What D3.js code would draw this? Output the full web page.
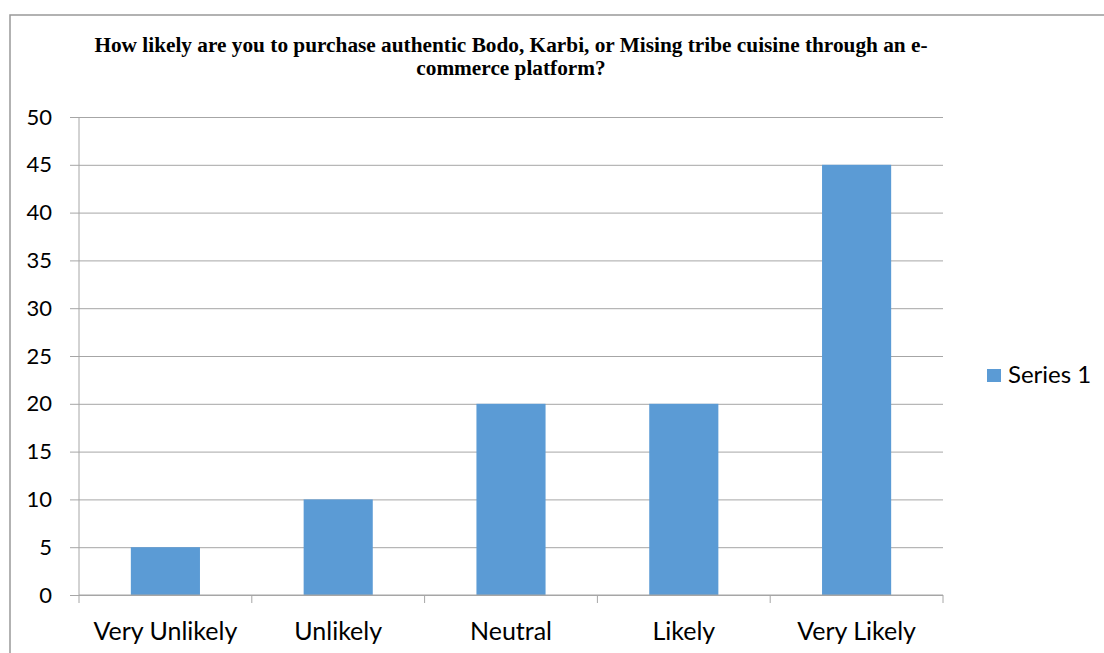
<!DOCTYPE html>
<html><head><meta charset="utf-8">
<script src="https://cdn.jsdelivr.net/npm/d3@7"></script>
<style>body{margin:0;background:#fff}</style>
</head><body>
<svg id="chart" width="1104" height="653"></svg>
<script>
const categories = ["Very Unlikely", "Unlikely", "Neutral", "Likely", "Very Likely"];
const values = [5, 10, 20, 20, 45];
const seriesName = "Series 1";
const yTicks = [0, 5, 10, 15, 20, 25, 30, 35, 40, 45, 50];
const titleLines = ["How likely are you to purchase authentic Bodo, Karbi, or Mising tribe cuisine through an e-", "commerce platform?"];

const svg = d3.select("#chart");
const m = {left: 79, right: 943, top: 117, bottom: 595};
const sans = "Lato, Carlito, Calibri, sans-serif";

svg.append("rect").attr("x", 10).attr("y", 15).attr("width", 1100).attr("height", 650)
  .attr("fill", "#fff").attr("stroke", "#999").attr("stroke-width", 1.5);

const x = d3.scaleBand().domain(categories).range([m.left, m.right]).paddingInner(0.6).paddingOuter(0.3);
const xOuter = d3.scaleBand().domain(categories).range([m.left, m.right]);
const y = d3.scaleLinear().domain([0, 50]).range([m.bottom, m.top]);

// title
const t = svg.append("text").attr("text-anchor", "middle")
  .attr("font-family", "Liberation Serif, Times New Roman, serif").attr("font-weight", "bold")
  .attr("font-size", 21.3).attr("fill", "#000");
titleLines.forEach((l, i) => t.append("tspan").attr("x", 511).attr("y", 51.5 + i * 23.5).text(l));

// gridlines + y axis
const yAxis = d3.axisLeft(y).tickValues(yTicks).tickSize(-(m.right - m.left)).tickPadding(27).tickSizeOuter(0);
const gy = svg.append("g").attr("transform", `translate(${m.left},0)`).call(yAxis);
gy.select(".domain").remove();
gy.selectAll(".tick line").attr("stroke", "#a6a6a6").attr("x1", -9);
gy.selectAll(".tick text").attr("font-family", sans).attr("font-size", 22).attr("fill", "#000");
svg.append("line").attr("x1", m.left).attr("x2", m.left).attr("y1", m.top).attr("y2", m.bottom).attr("stroke", "#a6a6a6");

// bars
svg.append("g").selectAll("rect").data(values).join("rect")
  .attr("x", (d, i) => x(categories[i])).attr("width", x.bandwidth())
  .attr("y", d => y(d)).attr("height", d => y(0) - y(d)).attr("fill", "#5B9BD5");

// x axis
const gx = svg.append("g").attr("transform", `translate(0,${m.bottom})`);
gx.append("line").attr("x1", m.left).attr("x2", m.right).attr("stroke", "#a6a6a6");
const bounds = categories.map(c => xOuter(c)).concat([m.right]);
gx.selectAll("line.tk").data(bounds).join("line").attr("class", "tk")
  .attr("x1", d => d).attr("x2", d => d).attr("y1", 0).attr("y2", 8).attr("stroke", "#a6a6a6");
gx.selectAll("text").data(categories).join("text")
  .attr("x", d => xOuter(d) + xOuter.bandwidth() / 2).attr("y", 45)
  .attr("text-anchor", "middle").attr("font-family", sans)
  .attr("font-size", 25).attr("fill", "#000").text(d => d);

// legend
const lg = svg.append("g");
lg.append("rect").attr("x", 987).attr("y", 369).attr("width", 14).attr("height", 13).attr("fill", "#5B9BD5");
lg.append("text").attr("x", 1008).attr("y", 383).attr("font-family", sans)
  .attr("font-size", 24).attr("fill", "#000").text(seriesName);
</script>
</body></html>
